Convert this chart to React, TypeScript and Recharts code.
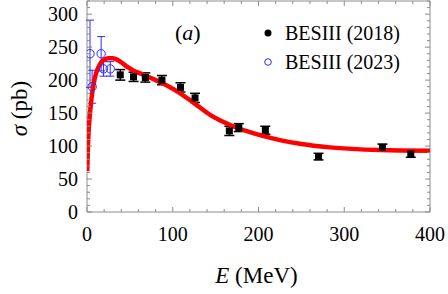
import React from 'react';
import { ComposedChart, Scatter, Line, XAxis, YAxis, ErrorBar, ReferenceArea, Legend, Label } from 'recharts';

// BESIII (2018)
const e2018 = [38.8, 54.3, 68, 87.4, 109, 126, 166, 177, 208, 270, 344.5, 377.6];
const s2018 = [208, 205, 204, 200, 189, 173, 123, 128, 124, 84, 98, 88];
const err2018 = [8, 7, 7, 7, 7, 7, 7, 6, 6, 5, 5, 5];

// BESIII (2023)
const e2023 = [3.5, 6, 16.5, 19.3, 27.1];
const s2023 = [240, 190, 240, 217, 217];
const err2023 = [51, 25, 26, 11, 11];

// fit curve
const eFit = [0.3, 1, 2, 3, 4, 6, 8, 11, 15, 20, 25, 30, 40, 47, 55, 66, 85, 105, 124, 144, 167, 190, 225, 250, 283, 341, 400];
const sFit = [62, 95, 125, 143, 157, 180, 196, 212, 224, 231, 233, 233, 227, 220, 214, 208, 197, 183, 166, 147, 132, 121, 109, 103, 98, 94, 93];

const xTicks = [0, 20, 40, 60, 80, 100, 120, 140, 160, 180, 200, 220, 240, 260, 280, 300, 320, 340, 360, 380, 400];
const yTicks = [0, 10, 20, 30, 40, 50, 60, 70, 80, 90, 100, 110, 120, 130, 140, 150, 160, 170, 180, 190, 200, 210, 220, 230, 240, 250, 260, 270, 280, 290, 300, 310, 320];

const seriesNames = ['BESIII (2018)', 'BESIII (2023)'];

const d2018 = e2018.map((E, i) => ({ E, sigma: s2018[i], err: err2018[i] }));
const d2023 = e2023.map((E, i) => ({ E, sigma: s2023[i], err: err2023[i] }));
const dFit = eFit.map((E, i) => ({ E, sigma: sFit[i] }));

const W = 448;
const H = 294;
const M = { top: 1, right: 18, bottom: 52, left: 27 };
const XH = 30;
const YW = 60;
const PLOT_W = W - M.left - M.right - YW;
const PLOT_H = H - M.top - M.bottom - XH;

const FONT = '"Liberation Serif", "Times New Roman", serif';
const FRAME = '#8c8c8c';
const BLUE = '#2a2aff';

const XTick = (props: any) => {
  const { x, y, payload } = props;
  const v = payload.value;
  const major = v % 100 === 0;
  const len = major ? 5 : 3;
  return (
    <g>
      <line x1={x} x2={x} y1={y} y2={y - len} stroke={FRAME} />
      <line x1={x} x2={x} y1={y - PLOT_H} y2={y - PLOT_H + len} stroke={FRAME} />
      {major && (
        <text x={x} y={y + 29} textAnchor="middle" fontSize={20} fontFamily={FONT} fill="#000">
          {v}
        </text>
      )}
    </g>
  );
};

const YTick = (props: any) => {
  const { x, y, payload } = props;
  const v = payload.value;
  const major = v % 50 === 0;
  const len = major ? 5 : 3;
  return (
    <g>
      <line x1={x} x2={x + len} y1={y} y2={y} stroke={FRAME} />
      <line x1={x + PLOT_W} x2={x + PLOT_W - len} y1={y} y2={y} stroke={FRAME} />
      {major && (
        <text x={x - 9} y={y + 7} textAnchor="end" fontSize={20} fontFamily={FONT} fill="#000">
          {v}
        </text>
      )}
    </g>
  );
};

const Square = (p: any) => <rect x={p.cx - 3.5} y={p.cy - 3.5} width={7} height={7} fill="#000" />;
const OpenCircle = (p: any) => <circle cx={p.cx} cy={p.cy} r={4.2} fill="none" stroke={BLUE} strokeWidth={1} />;

const LegendBox = (props: any) => (
  <div style={{ fontFamily: FONT, fontSize: 20, color: '#000' }}>
    {(props.payload || [])
      .filter((entry: any) => seriesNames.includes(entry.value))
      .map((entry: any) => (
        <div key={entry.value} style={{ display: 'flex', alignItems: 'center', height: 29, whiteSpace: 'nowrap' }}>
          <svg width={10} height={10} style={{ marginRight: 12 }}>
            {entry.value === seriesNames[0] ? (
              <circle cx={5} cy={5} r={3.5} fill="#000" />
            ) : (
              <circle cx={5} cy={5} r={3.3} fill="none" stroke={BLUE} strokeWidth={1} />
            )}
          </svg>
          <span>{entry.value}</span>
        </div>
      ))}
  </div>
);

const XTitle = (props: any) => {
  const vb = props.viewBox;
  return (
    <text x={vb.x + vb.width / 2 - 2} y={vb.y + 71} textAnchor="middle" fontSize={23} fontFamily={FONT} fill="#000">
      <tspan fontStyle="italic">E</tspan> (MeV)
    </text>
  );
};

const YTitle = (props: any) => {
  const vb = props.viewBox;
  const cx = 27;
  const cy = vb.y + vb.height / 2 + 2;
  return (
    <text x={cx} y={cy} textAnchor="middle" fontSize={23} fontFamily={FONT} fill="#000" transform={`rotate(-90, ${cx}, ${cy})`}>
      <tspan fontStyle="italic">σ</tspan> (pb)
    </text>
  );
};

export default function App() {
  return (
    <div style={{ position: 'absolute', left: 0, top: 0, width: W, height: H, background: '#fff' }}>
      <ComposedChart width={W} height={H} margin={M}>
        <XAxis
          dataKey="E"
          type="number"
          domain={[0, 400]}
          ticks={xTicks}
          interval={0}
          height={XH}
          axisLine={false}
          tickLine={false}
          tickSize={0}
          tickMargin={0}
          tick={<XTick />}
          allowDataOverflow
        >
          <Label content={<XTitle />} />
        </XAxis>
        <YAxis
          type="number"
          domain={[0, 320]}
          ticks={yTicks}
          interval={0}
          width={YW}
          axisLine={false}
          tickLine={false}
          tickSize={0}
          tickMargin={0}
          tick={<YTick />}
          allowDataOverflow
        >
          <Label content={<YTitle />} />
        </YAxis>
        <ReferenceArea x1={0} x2={400} y1={0} y2={320} fill="none" stroke={FRAME} strokeWidth={1} ifOverflow="visible" />
        <Scatter name={seriesNames[0]} data={d2018} dataKey="sigma" fill="#000" shape={Square} isAnimationActive={false}>
          <ErrorBar dataKey="err" direction="y" width={5} stroke="#000" strokeWidth={1.5} isAnimationActive={false} />
        </Scatter>
        <Scatter name={seriesNames[1]} data={d2023} dataKey="sigma" fill={BLUE} shape={OpenCircle} isAnimationActive={false}>
          <ErrorBar dataKey="err" direction="y" width={4} stroke={BLUE} strokeWidth={1} isAnimationActive={false} />
        </Scatter>
        <Line
          name="fit"
          data={dFit}
          dataKey="sigma"
          type="monotone"
          stroke="#ff0000"
          strokeWidth={4.5}
          dot={false}
          activeDot={false}
          legendType="none"
          isAnimationActive={false}
        />
        <Legend
          layout="vertical"
          align="center"
          verticalAlign="middle"
          wrapperStyle={{ position: 'absolute', left: 263, top: 18.5, width: 160, height: 60 }}
          content={<LegendBox />}
        />
      </ComposedChart>
      <div style={{ position: 'absolute', left: 175, top: 20, fontFamily: FONT, fontSize: 22, lineHeight: '26px', color: '#000' }}>
        (<i>a</i>)
      </div>
    </div>
  );
}
